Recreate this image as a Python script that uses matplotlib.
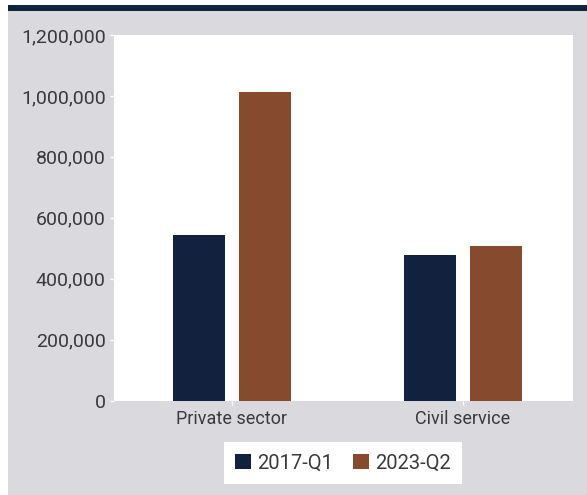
import matplotlib.pyplot as plt
import matplotlib
from matplotlib.patches import Rectangle, Patch
from matplotlib.ticker import FuncFormatter
import numpy as np

# data
categories = ['Private sector', 'Civil service']
series_names = ['2017-Q1', '2023-Q2']
values_2017 = [542000, 478000]
values_2023 = [1013000, 506000]

navy = '#12213d'
brown = '#864a2e'
bg = '#dad9de'
txt = '#3a3a3a'

plt.rcParams['font.family'] = ['Roboto', 'DejaVu Sans']

fig = plt.figure(figsize=(5.87, 4.95), dpi=100)
fig.patch.set_facecolor('white')

# grey panel + dark top rule (behind the axes)
fig.add_artist(Rectangle((8 / 587, 0), 1, (495 - 11) / 495, transform=fig.transFigure,
                         facecolor=bg, edgecolor='none', zorder=-10))
fig.add_artist(Rectangle((8 / 587, (495 - 11) / 495), 1, 6 / 495, transform=fig.transFigure,
                         facecolor=navy, edgecolor='none', zorder=-10))

ax = fig.add_axes([114 / 587, (495 - 400.5) / 495, 459 / 587, 365.5 / 495])
ax.set_facecolor('white')

x = np.arange(len(categories))
w = 0.225
off = 0.142
ax.bar(x - off, values_2017, w, color=navy, label=series_names[0])
ax.bar(x + off, values_2023, w, color=brown, label=series_names[1])

ax.set_xlim(-0.51, 1.477)
ax.set_ylim(0, 1200000)
ax.set_yticks(np.arange(0, 1200001, 200000))
ax.yaxis.set_major_formatter(FuncFormatter(lambda v, p: f'{int(v):,}'))
ax.set_xticks(x)
ax.set_xticklabels(categories)

for s in ax.spines.values():
    s.set_visible(False)

ax.tick_params(axis='both', colors='white', labelcolor=txt, length=3, width=1)
ax.tick_params(axis='x', pad=4, labelsize=13)
ax.tick_params(axis='y', pad=3, labelsize=14)

handles = [Patch(facecolor=navy), Patch(facecolor=brown)]
leg = fig.legend(handles, series_names, loc='center', bbox_to_anchor=(343 / 587, 32 / 495),
                 ncol=2, frameon=True, fancybox=False, fontsize=14.5, handlelength=0.8,
                 handleheight=0.8, handletextpad=0.3, columnspacing=1.0,
                 borderpad=0.55, borderaxespad=0)
leg.get_frame().set_facecolor('white')
leg.get_frame().set_edgecolor('none')
leg.get_frame().set_alpha(1)
for t in leg.get_texts():
    t.set_color(txt)

fig.savefig('out.png', dpi=100)
